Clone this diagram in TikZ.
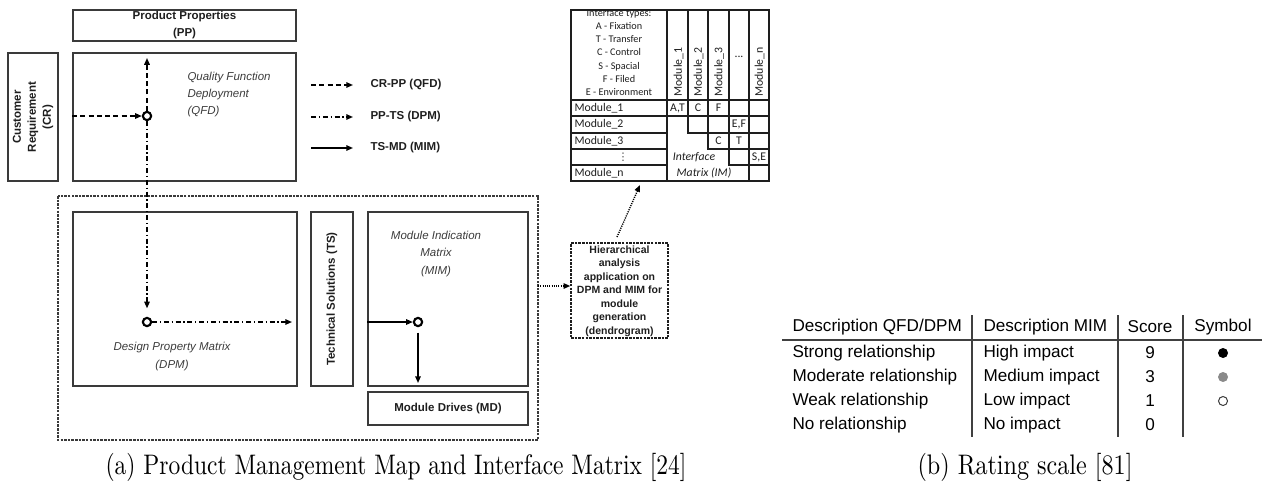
\documentclass[tikz,border=0pt]{standalone}
\usepackage{fontspec}
\newfontfamily\arial{Liberation Sans}
\newfontfamily\calib{Carlito}
\newfontfamily\dejavu{DejaVu Sans}
\usetikzlibrary{arrows.meta,fit}
\definecolor{edge}{HTML}{3A3A3A}
\definecolor{ink}{HTML}{1E1E1E}
\definecolor{soft}{HTML}{3C3C3C}
\definecolor{rule}{HTML}{404040}
\definecolor{midgray}{HTML}{8A8A8A}
\tikzset{
  bx/.style={draw=edge, line width=0.7pt, inner sep=0pt},
  lbl/.style={font=\arial\bfseries\fontsize{4.6}{6.8}\selectfont, text=ink, align=center},
  ital/.style={font=\arial\itshape\fontsize{4.6}{6.8}\selectfont, text=soft},
  hub/.style={circle, draw=black, line width=0.85pt, fill=white, minimum size=3.3pt, inner sep=0pt},
  tipped/.style={-{Triangle[length=2.7pt,width=2.2pt]}, draw=black, line width=0.6pt},
  crpp/.style={tipped, dash pattern=on 2pt off 1.3pt},
  ppts/.style={tipped, dash pattern=on 2pt off 1.1pt on 0.5pt off 1.1pt},
  tsmd/.style={tipped},
  dotarr/.style={tipped, line width=0.55pt, dash pattern=on 0.45pt off 0.45pt},
  mtx/.style={draw=ink, line width=0.55pt},
  mtxt/.style={font=\calib\fontsize{4.7}{5.4}\selectfont, text=ink, inner sep=0pt},
  typ/.style={font=\calib\fontsize{4.1}{5.35}\selectfont, text=ink, align=center, inner sep=0pt},
  tab/.style={font=\arial\fontsize{6.85}{8}\selectfont, text=black, inner sep=0pt},
  captext/.style={font=\fontsize{10}{12}\selectfont, inner sep=0pt, yscale=1.13}
}
\begin{document}
\begin{tikzpicture}[x=0.4pt,y=-0.4pt]
\useasboundingbox (0,0) rectangle (1263,487);

% ---------- product management map ----------
\node[bx, fit={(73,10) (296,41)}] (pp) {};
\node[lbl] at (pp.center) {Product Properties\\(PP)};
\node[bx, fit={(8,53) (58,181)}] (cr) {};
\node[lbl, rotate=90, font=\arial\bfseries\fontsize{4.6}{6}\selectfont] at (cr.center) {Customer\\Requirement\\(CR)};
\node[bx, fit={(73,53) (296,181)}] (qfd) {};
\node[ital, anchor=north west, align=left, inner sep=0pt] at (187,72) {Quality Function\\Deployment\\(QFD)};

\draw[line width=0.45pt, draw=edge, dash pattern=on 1pt off 0.45pt] (58,196) rectangle (538,440);
\coordinate (outerE) at (538,286);

\node[bx, fit={(73,212) (297,386)}] (dpm) {};
\node[ital, align=center, font=\arial\itshape\fontsize{4.6}{7.2}\selectfont] at (172,357) {Design Property Matrix\\(DPM)};
\node[bx, fit={(311,212) (353,386)}] (ts) {};
\node[lbl, rotate=90] at (ts.center) {Technical Solutions (TS)};
\node[bx, fit={(368,212) (528,386)}] (mim) {};
\node[ital, align=center, font=\arial\itshape\fontsize{4.6}{7}\selectfont] at (436,254) {Module Indication\\Matrix\\(MIM)};
\node[bx, fit={(368,392) (528,425)}] (md) {};
\node[lbl] at (md.center) {Module Drives (MD)};

% junction circles
\node[hub] (qfdhub) at (147,116) {};
\node[hub] (dpmhub) at (147,322) {};
\node[hub] (mimhub) at (418,322) {};
\coordinate (pptip) at (147,58);
\coordinate (tstip) at (292,322);
\coordinate (mdtip) at (418,383);

\draw[crpp] (qfd.west |- qfdhub) -- (qfdhub);
\draw[crpp] (qfdhub) -- (pptip);
\draw[ppts, shorten >=3.4pt] (qfdhub) -- (dpmhub);
\draw[ppts] (dpmhub) -- (tstip);
\draw[tsmd] (mim.west |- mimhub) -- (mimhub);
\draw[tsmd, shorten <=2.2pt] (mimhub) -- (mdtip);

% legend
\foreach \yy/\sty/\txt/\nm in {85/crpp/CR-PP (QFD)/la, 117/ppts/PP-TS (DPM)/lb, 148/tsmd/TS-MD (MIM)/lc}{
  \coordinate (\nm s) at (311,\yy);
  \coordinate (\nm e) at (353,\yy);
  \draw[\sty] (\nm s) -- (\nm e);
  \node[lbl, anchor=west, inner sep=0pt] (\nm t) at (370,\yy) {\txt};
}

% hierarchical analysis box
\node[draw=ink, line width=0.6pt, dash pattern=on 1pt off 0.45pt, inner sep=0pt, fit={(571,243) (668,338)}] (hier) {};
\node[lbl, font=\arial\bfseries\fontsize{4.2}{5.4}\selectfont] at (619.5,291) {Hierarchical\\analysis\\application on\\DPM and MIM for\\module\\generation\\(dendrogram)};
\coordinate (hierup) at (617,237);
\coordinate (imtip) at (640,185);
\draw[dotarr] (outerE) -- (hier.west |- outerE);
\draw[dotarr] (hierup) -- (imtip);

% ---------- interface matrix ----------
\begin{scope}
\clip (571,10) rectangle (769,181);
\node[typ] at (619,14) {Interface types:};
\end{scope}
\node[typ, anchor=north] at (619,21.5) {A - Fixation\\T - Transfer\\C - Control\\S - Spacial\\F - Filed\\E - Environment};
\draw[mtx] (571,10) rectangle (769,181);
\draw[mtx] (571,100) -- (769,100);
\draw[mtx] (667,10) -- (667,181);
\draw[mtx] (571,116) -- (769,116);
\foreach \yy in {133,149,165} \draw[mtx] (571,\yy) -- (667,\yy);
\draw[mtx] (688,10) -- (688,133) -- (769,133);
\draw[mtx] (708,10) -- (708,149) -- (769,149);
\draw[mtx] (729,10) -- (729,165) -- (769,165);
\draw[mtx] (749,10) -- (749,181);
\foreach \xx/\txt in {678/Module\_1, 698/Module\_2, 718.5/Module\_3, 759/Module\_n}
  \node[mtxt, rotate=90, anchor=west] at (\xx+0.5,97) {\txt};
\node[mtxt] at (739,57) {...};
\foreach \yy/\txt in {108/Module\_1, 124.5/Module\_2, 141/Module\_3, 173/Module\_n}
  \node[mtxt, anchor=west] at (574,\yy) {\txt};
\node[mtxt, font=\dejavu\fontsize{4.2}{5}\selectfont, text=soft] at (623,157) {⋮};
\node[mtxt] at (677.5,108) {A,T};
\node[mtxt] at (698,108) {C};
\node[mtxt] at (718.5,108) {F};
\node[mtxt] at (739,124.5) {E,F};
\node[mtxt] at (718.5,141) {C};
\node[mtxt] at (739,141) {T};
\node[mtxt] at (759,157) {S,E};
\node[mtxt, font=\calib\itshape\fontsize{4.7}{5.4}\selectfont] at (694,157) {Interface};
\node[mtxt, font=\calib\itshape\fontsize{4.7}{5.4}\selectfont] at (704,173) {Matrix (IM)};

% ---------- rating scale ----------
\draw[rule, line width=0.6pt] (782,340) -- (1262,340);
\foreach \xx in {972,1118,1183} \draw[rule, line width=0.6pt] (\xx,315) -- (\xx,437);
\node[tab, anchor=west] (h1) at (792,327) {Description QFD/DPM};
\node[tab, anchor=west] (h2) at (983,327) {Description MIM};
\node[tab] (h3) at (1150,327) {Score};
\node[tab] (h4) at (1223,327) {Symbol};
\foreach \yy/\a/\b/\s/\nm in {353/Strong relationship/High impact/9/ra, 377/Moderate relationship/Medium impact/3/rb, 401/Weak relationship/Low impact/1/rc, 425/No relationship/No impact/0/rd}{
  \node[tab, anchor=west] (\nm1) at (792,\yy) {\a};
  \node[tab, anchor=west] (\nm2) at (983,\yy) {\b};
  \node[tab] (\nm3) at (1150,\yy) {\s};
}
\fill[black] (1223,353) circle (5);
\fill[midgray] (1223,377) circle (5);
\draw[draw=soft, line width=0.4pt, fill=white] (1223,401) circle (4.5);

% ---------- captions ----------
\node[captext, xscale=0.94] (capa) at (396,467) {(a) Product Management Map and Interface Matrix [24]};
\node[captext, xscale=0.965] (capb) at (1025,467) {(b) Rating scale [81]};
\end{tikzpicture}
\end{document}
